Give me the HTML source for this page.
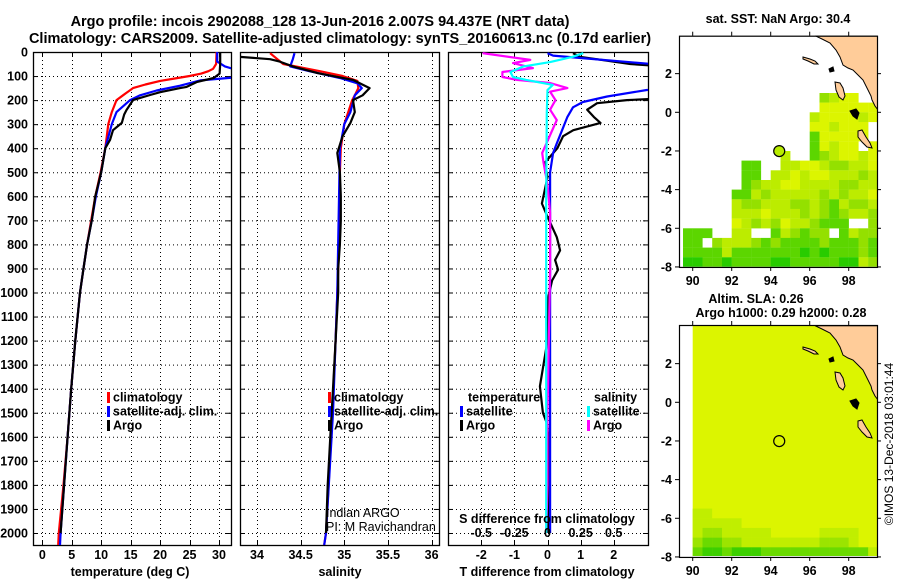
<!DOCTYPE html>
<html><head><meta charset="utf-8"><style>
html,body{margin:0;padding:0;background:#fff}
svg{display:block}
text{font-family:"Liberation Sans",sans-serif;font-weight:bold;fill:#000}
</style></head><body>
<svg id="fig" width="900" height="580" viewBox="0 0 900 580" xmlns="http://www.w3.org/2000/svg">
<defs>
<clipPath id="c1"><rect x="33" y="52" width="198" height="493"/></clipPath>
<clipPath id="c2"><rect x="240" y="52" width="199" height="493"/></clipPath>
<clipPath id="c3"><rect x="448" y="52" width="200" height="493"/></clipPath>
<clipPath id="cm1"><rect x="679" y="35.7" width="198.5" height="231"/></clipPath>
<clipPath id="cm2"><rect x="679" y="325" width="198.5" height="231"/></clipPath>
</defs>
<text x="320" y="26" font-size="14.5" text-anchor="middle">Argo profile: incois 2902088_128 13-Jun-2016 2.007S 94.437E (NRT data)</text>
<text x="340" y="43" font-size="14.5" text-anchor="middle">Climatology: CARS2009. Satellite-adjusted climatology: synTS_20160613.nc (0.17d earlier)</text>
<g id="g"></g>
</svg>
<script>
// ---- depth grid
const depthTicks=[0,100,200,300,400,500,600,700,800,900,1000,1100,1200,1300,1400,1500,1600,1700,1800,1900,2000];
// ---- temperature panel
const tTicks=[0,5,10,15,20,25,30];
const argoTDepth=[0,50,90,108,125,145,150,167,179,200,241,260,295,325,366,400,500,600,700,800,900,1000,1200,1400,1600,1800,2000];
const argoT=[30.2,30.2,30.1,29.1,26.2,24.5,23.4,20,18.3,15.4,14.3,13.9,13.5,12,11.5,10.7,10,9,8.4,7.6,7,6.4,5.6,4.9,4.3,3.7,3.1];
const climTDepth=[0,50,70,80,90,100,110,120,135,150,180,200,250,300,400,500,600,700,800,900,1000,1200,1400,1600,1800,2000,2050];
const climT=[29.6,29.5,29.0,28.2,27,25,22.5,20,17.5,15.4,13.7,12.6,11.8,11.2,10.7,9.9,9.0,8.3,7.6,7,6.4,5.6,4.9,4.3,3.6,2.8,2.7];
const satTDepth=[0,40,60,75,105,118,140,160,180,200,250,300,400,500,600,700,800,900,1000,1200,1400,1600,1800,2000,2050];
const satT=[29.7,29.7,31,33,33,26.8,23.4,19.4,16.6,14.9,12.6,11.8,10.7,10,9.1,8.4,7.6,7,6.4,5.6,4.9,4.3,3.7,3.1,3.0];
// ---- salinity panel
const sTicks=[34,34.5,35,35.5,36];
const sTickLabels=["34","34.5","35","35.5","36"];
const argoSDepth=[20,30,40,60,88,116,150,180,200,250,295,350,420,500,600,700,800,900,1000,1200,1400,1600,1800,2000];
const argoS=[33.8,34.15,34.26,34.41,34.7,35.1,35.29,35.21,35.1,35.12,35.07,34.98,34.92,34.95,34.96,34.96,34.95,34.93,34.93,34.9,34.87,34.84,34.81,34.79];
const climSDepth=[5,50,80,100,120,150,180,200,300,400,500,800,1200,1600,2000,2050];
const climS=[34.15,34.3,34.72,34.98,35.15,35.16,35.12,35.09,35.0,34.96,34.95,34.94,34.9,34.85,34.79,34.77];
const satSDepth=[5,30,60,80,108,130,150,180,250,300,400,1000,1500,2000,2050];
const satS=[34.43,34.41,34.38,34.6,34.95,35.15,35.2,35.12,35.07,35.0,34.95,34.92,34.87,34.79,34.77];
// ---- difference panel
const tdTicks=[-2,-1,0,1,2];
const sdTicks=[-0.5,-0.25,0,0.25,0.5];
const sdTickLabels=["-0.5","-0.25","0","0.25","0.5"];
const argoTdDepth=[5,20,50,65,85,120,190,200,213,240,270,295,325,350,400,460,520,630,685,770,825,865,905,950,1020,1200,1390,1500,1550,1700,2000];
const argoTd=[0.77,0.98,2.5,4,4,4,4,2.4,1.5,1.2,1.4,1.6,0.78,0.47,0.3,-0.08,0,-0.17,0,0.28,0.38,0.23,0.32,0.14,0.02,0.0,-0.23,-0.14,0,0.05,0.02];
const satTdDepth=[5,15,25,60,150,158,185,208,230,270,325,380,420,500,1000,2000];
const satTd=[0,0.17,1.0,4,4,3,1.8,1.07,0.77,0.6,0.44,0.28,0.17,0.08,0.08,0.08];
const argoSdDepth=[5,33,46,67,83,104,116,129,150,165,200,240,283,320,420,460,550,670,900,1200,1500,1800,2000];
const argoSd=[-0.49,-0.13,-0.26,-0.11,-0.34,-0.34,-0.23,0.02,0.15,0.02,0.06,0.02,0.07,0.04,-0.04,-0.03,0.0,0.02,0.02,0.01,0.0,0.0,-0.01];
const satSdDepth=[5,20,42,60,83,104,116,137,158,250,600,1200,2000];
const satSd=[0.27,0.19,0.02,-0.18,-0.28,-0.26,-0.16,0.04,0,-0.005,-0.01,-0.01,-0.01];
// ---- maps
const mapLonTicks=[90,92,94,96,98];
const mapLatTicks=[2,0,-2,-4,-6,-8];
const argoLon=94.437, argoLat=-2.007;
const sstRows=[
"..............cbaa..",
"..............aaaaaa",
".............baaaaba",
".............aabaaa.",
".............daaaaa.",
".............dabaa.a",
"..........b..dcbaaba",
"......dd..bbaabccbba",
"......dd.bbabaabbbcb",
"......dcbbaabbbbccbb",
".....ddbcbbbbbcbcbba",
".....bccbbbccbcdbccb",
".....bbbabbbcbcdcbbc",
".....abcbcabbcddd..c",
"ddd..bb..dbcdcc.dbcc",
"dd.cbbbcdcddddcdddcd",
"ddddbdddddddededddcd",
"eeddeddddeedddddeebc"];
const slaRows=[
"bba................",
"bbbbb..............",
"bccbbbbb.....bbbb..",
"cddccbbbbbbbbcccb..",
"deedeeedddddddddddb"];

const sstColors={a:"#dcf500",b:"#bcec00",c:"#94e000",d:"#5cd600",e:"#28cc00"};
const slaColors={a:"#dcf500",b:"#c0ee00",c:"#9be400",d:"#6ada00",e:"#3ccf00"};

const NS="http://www.w3.org/2000/svg";
const G=document.getElementById('g');
function mk(tag,attrs,parent){const e=document.createElementNS(NS,tag);for(const k in attrs)e.setAttribute(k,attrs[k]);(parent||G).appendChild(e);return e;}
function txt(x,y,s,size,anchor,parent){const e=mk('text',{x:x,y:y,'font-size':size,'text-anchor':anchor||'middle'},parent);e.textContent=s;return e;}

const yD=d=>52+d*0.2405;
const xT=t=>42.3+t*5.89;
const xS=s=>257+(s-34)*87.3;
const xTd=v=>547.5+v*33.1;
const xSd=v=>547.5+v*132.5;

function panel(x0,x1,clip,name,xTicks,xf){
  const p=mk('g',{});
  
  
  const gl=mk('g',{stroke:'#000','stroke-width':1,'stroke-dasharray':'1,3'},p);
  
  
  depthTicks.forEach(d=>{mk('line',{x1:x0,x2:x1,y1:yD(d)+0.5,y2:yD(d)+0.5},gl);});
  xTicks.forEach(v=>{const x=Math.round(xf(v))+0.5;mk('line',{x1:x,x2:x,y1:52,y2:545},gl);});
  xTicks.forEach(v=>{const x=Math.round(xf(v))+0.5;mk('line',{x1:x,x2:x,y1:52,y2:57,stroke:'#000'},p);mk('line',{x1:x,x2:x,y1:545,y2:540,stroke:'#000'},p);});
  depthTicks.forEach(d=>{mk('line',{x1:x0,x2:x0+5,y1:yD(d)+0.5,y2:yD(d)+0.5,stroke:'#000'},p);mk('line',{x1:x1-5,x2:x1,y1:yD(d)+0.5,y2:yD(d)+0.5,stroke:'#000'},p);});
  const fr=mk('rect',{x:x0+0.5,y:52.5,width:x1-x0,height:493,fill:'none',stroke:'#000','stroke-width':1.3},p);
  
  
  const sg=mk('g',{'clip-path':'url(#'+clip+')'},p);
  return sg;
}
function series(parent,depths,vals,xf,color,name){
  const pts=depths.map((d,i)=>xf(vals[i]).toFixed(1)+','+yD(d).toFixed(1)).join(' ');
  const l=mk('polyline',{points:pts,fill:'none',stroke:color,'stroke-width':2.2,'stroke-linejoin':'round'},parent);
  
  
}
function legend(x,y,color,label,name){
  const b=mk('rect',{x:x,y:y-5,width:3,height:11,fill:color});
  
  
  const t=txt(x+6,y+4.5,label,12.5,'start');
  
  
}

// y-axis labels
depthTicks.forEach(d=>{const t=txt(28,yD(d)+4.5,String(d),12.5,'end');

});

// panel 1
const p1=panel(33,231,'c1','temperature-panel',tTicks,xT);
series(p1,climTDepth,climT,xT,'#ff0000','temp-climatology-line');
series(p1,satTDepth,satT,xT,'#0000ff','temp-satellite-line');
series(p1,argoTDepth,argoT,xT,'#000000','temp-argo-line');
tTicks.forEach(v=>{const t=txt(xT(v),559,String(v),12.5);

});
let t1=txt(130,576,'temperature (deg C)',12.5);


legend(107,397,'#ff0000','climatology','temp-legend-climatology');
legend(107,411,'#0000ff','satellite-adj. clim.','temp-legend-satellite');
legend(107,425,'#000000','Argo','temp-legend-argo');

// panel 2
const p2=panel(240,439,'c2','salinity-panel',sTicks,xS);
series(p2,climSDepth,climS,xS,'#ff0000','sal-climatology-line');
series(p2,satSDepth,satS,xS,'#0000ff','sal-satellite-line');
series(p2,argoSDepth,argoS,xS,'#000000','sal-argo-line');
sTicks.forEach((v,i)=>{const t=txt(xS(v),559,sTickLabels[i],12.5);

});
let t2=txt(340,576,'salinity',12.5);


legend(328,397,'#ff0000','climatology','sal-legend-climatology');
legend(328,411,'#0000ff','satellite-adj. clim.','sal-legend-satellite');
legend(328,425,'#000000','Argo','sal-legend-argo');
let c1=mk('text',{x:326,y:517,'font-size':12.5,'text-anchor':'start',style:'font-weight:normal'});c1.textContent='Indian ARGO';


let c2=mk('text',{x:326,y:531,'font-size':12.5,'text-anchor':'start',style:'font-weight:normal'});c2.textContent='PI: M Ravichandran';



// panel 3
const p3=panel(448,648,'c3','difference-panel',tdTicks,xTd);
series(p3,argoTdDepth,argoTd,xTd,'#000000','tdiff-argo-line');
series(p3,satTdDepth,satTd,xTd,'#0000ff','tdiff-satellite-line');
series(p3,argoSdDepth,argoSd,xSd,'#ff00ff','sdiff-argo-line');
series(p3,satSdDepth,satSd,xSd,'#00ffff','sdiff-satellite-line');
tdTicks.forEach(v=>{const t=txt(xTd(v),559,String(v),12.5);

});
sdTicks.forEach((v,i)=>{const t=txt(xSd(v),537,sdTickLabels[i],12.5);

});
let t3=txt(547,576,'T difference from climatology',12.5);


let t4=txt(547,523,'S difference from climatology',12.5);


let lt=txt(468,401.5,'temperature',12.5,'start');


let ls=txt(594,401.5,'salinity',12.5,'start');


legend(460,411,'#0000ff','satellite','tdiff-legend-satellite');
legend(460,425,'#000000','Argo','tdiff-legend-argo');
legend(587,411,'#00ffff','satellite','sdiff-legend-satellite');
legend(587,425,'#ff00ff','Argo','sdiff-legend-argo');

// maps
const xL=lon=>692.7+(lon-90)*19.5;
function drawMap(top,lat0y,clip,name,rows,colors,lonStart,rowLatTop,baseColor,filledDot){
  const yLat=lat=>lat0y-lat*19.33;
  const m=mk('g',{});
  
  
  const inner=mk('g',{'clip-path':'url(#'+clip+')'},m);
  if(baseColor){const r=mk('rect',{x:xL(90),y:top,width:877.7-xL(90),height:yLat(-8)-top,fill:baseColor},inner);
    
    }
  rows.forEach((row,j)=>{
    for(let i=0;i<row.length;i++){const ch=row[i];if(ch==='.')continue;
      const lon=lonStart+i*0.5, lat=rowLatTop-j*0.5;
      const c=mk('rect',{x:xL(lon).toFixed(1),y:yLat(lat).toFixed(1),width:9.9,height:9.8,fill:colors[ch]},inner);
      
      
    }
  });
  const off=lat0y-112.3;
  const land=mk('g',{fill:'#ffcc99',stroke:'#000','stroke-width':1},inner);
  
  
  const sh=pts=>pts.map(p=>p[0]+','+(p[1]+off)).join(' ');
  mk('polygon',{points:sh([[815,35.7],[822,39],[830,43],[836,50],[840,57],[843,65],[848,68],[853,70],[858,75],[863,80],[866,86],[868,90],[871,96],[872,100],[875,106],[878,110],[878,35.7]])},land);
  mk('polygon',{points:sh([[803,57],[810,59],[815,61],[818,64],[814,64],[808,61],[803,59]])},land);
  mk('polygon',{points:sh([[835,82],[840,83],[843,88],[845,96],[843,100],[839,97],[836,90]])},land);
  mk('polygon',{points:sh([[858,131],[862,130],[866,137],[870,143],[872,148],[867,147],[862,142],[858,137]])},land);
  mk('polygon',{points:sh([[850,111],[856,109],[859,113],[857,119],[853,116]]),fill:'#000'},land);
  mk('polygon',{points:sh([[829,69],[833,67],[834,71],[830,72]]),fill:'#000'},land);
  const dot=mk('circle',{cx:xL(argoLon),cy:yLat(argoLat),r:5.5,fill:filledDot?'#b8ec00':'none',stroke:'#000','stroke-width':1.2},m);
  
  
  const bottom=yLat(-8);
  const fr=mk('rect',{x:679.5,y:top+0.5,width:198,height:bottom-top,fill:'none',stroke:'#000','stroke-width':1.2},m);
  
  
  mapLonTicks.forEach(v=>{const x=xL(v);
    mk('line',{x1:x,x2:x,y1:top,y2:top-4,stroke:'#000'},m);
    mk('line',{x1:x,x2:x,y1:bottom,y2:bottom+4,stroke:'#000'},m);
    const t=txt(x,bottom+18,String(v),12.5,'middle',m);
    
    });
  mapLatTicks.forEach(v=>{const y=yLat(v);
    mk('line',{x1:679,x2:675,y1:y,y2:y,stroke:'#000'},m);
    mk('line',{x1:877,x2:881,y1:y,y2:y,stroke:'#000'},m);
    const t=txt(672,y+4.5,String(v),12.5,'end',m);
    
    });
}
drawMap(35.7,112.3,'cm1','sst-map',sstRows,sstColors,89.5,1,null,true);
drawMap(325,402.3,'cm2','sla-map',slaRows,slaColors,90,-5.5,'#dcf500',false);
let m1=txt(778,23,'sat. SST: NaN Argo: 30.4',12.5);


let m2=txt(756,303,'Altim. SLA: 0.26',12.5);


let m3=txt(781,317,'Argo h1000: 0.29 h2000: 0.28',12.5);


let cr=mk('text',{x:0,y:0,'font-size':12,'text-anchor':'middle',transform:'translate(893,444) rotate(-90)',style:'font-weight:normal'});
cr.textContent='©IMOS 13-Dec-2018 03:01:44';


</script>
</body></html>
